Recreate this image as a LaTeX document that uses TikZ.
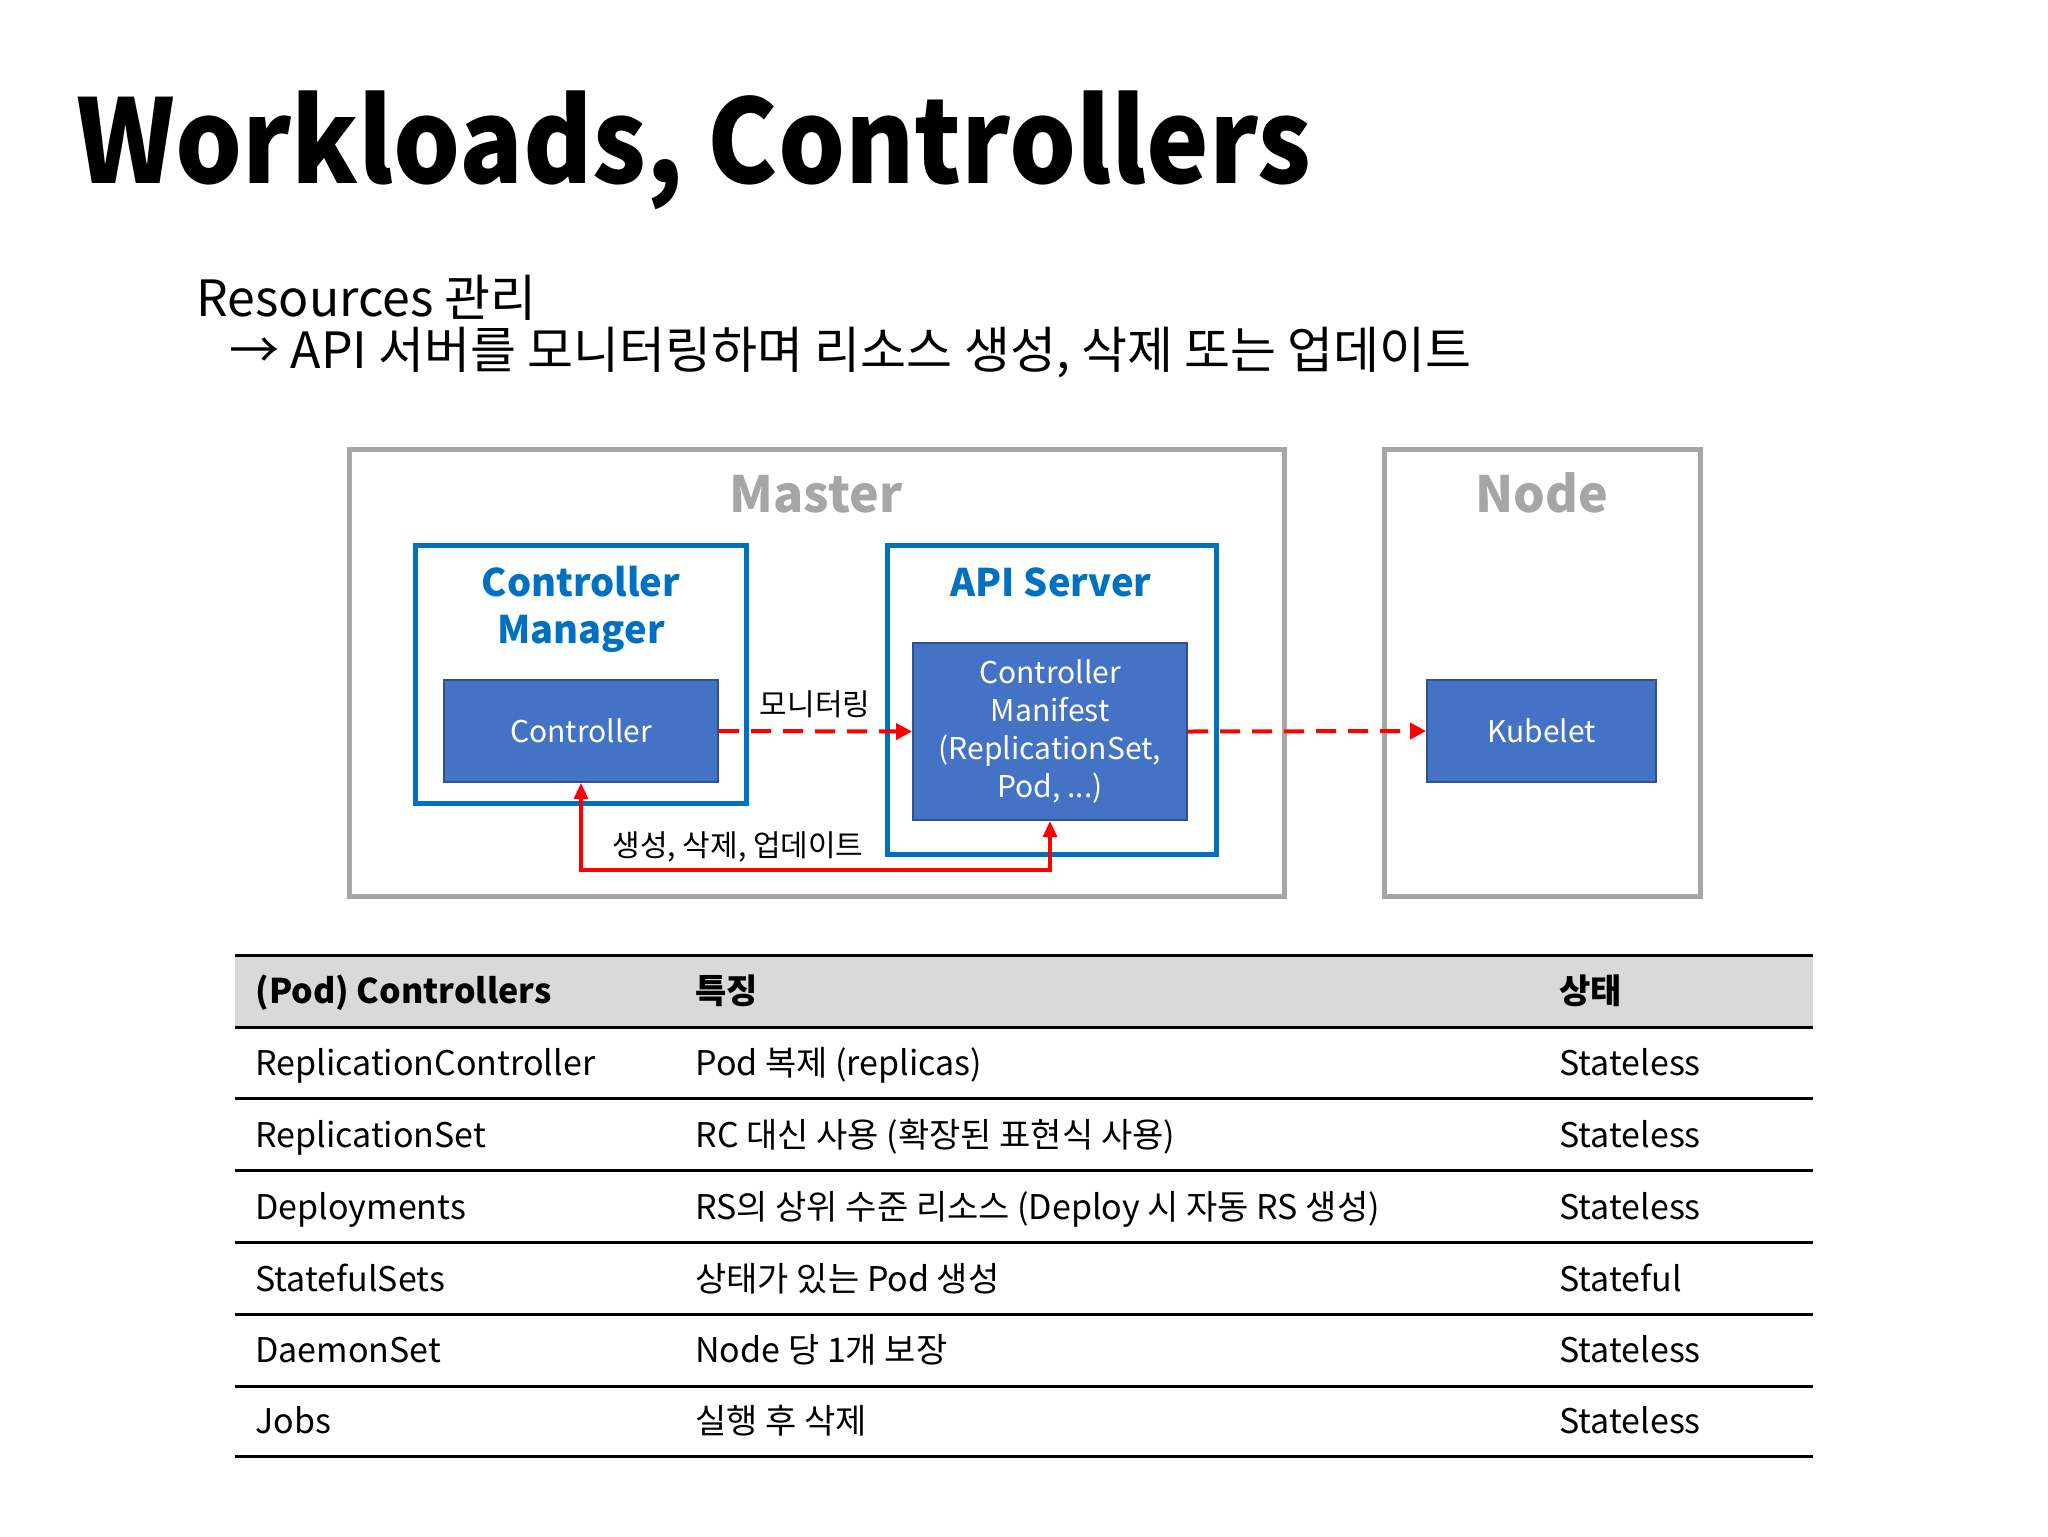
\documentclass[tikz,border=0pt]{standalone}
\usepackage{fontspec}
\setmainfont{Noto Sans CJK KR}
\usetikzlibrary{arrows.meta}
\definecolor{boxgray}{HTML}{A6A6A6}
\definecolor{msblue}{HTML}{0070C0}
\definecolor{fillblue}{HTML}{4472C4}
\definecolor{edgeblue}{HTML}{2F528F}
\definecolor{hdrgray}{HTML}{D9D9D9}
\definecolor{arrred}{HTML}{FF0000}
\tikzset{
  graybox/.style={draw=boxgray, line width=2.5pt, fill=white, inner sep=0pt},
  bluebox/.style={draw=msblue, line width=2.5pt, fill=white, inner sep=0pt},
  solidbox/.style={draw=edgeblue, line width=1pt, fill=fillblue, text=white, inner sep=0pt, align=center, font=\fontsize{15}{19}\selectfont},
  graytitle/.style={text=boxgray, font=\fontsize{25}{30}\selectfont\bfseries, anchor=base, inner sep=0pt},
  bluetitle/.style={text=msblue, font=\fontsize{19}{23.5}\selectfont\bfseries, align=center, inner sep=0pt},
  lbl/.style={font=\fontsize{15}{18}\selectfont, inner sep=0pt},
  dasharrow/.style={draw=arrred, line width=2pt, dash pattern=on 10pt off 6pt, -{Triangle[length=8pt,width=8pt]}},
  solidarrow/.style={draw=arrred, line width=1.6pt, {Triangle[length=8pt,width=7pt]}-{Triangle[length=8pt,width=7pt]}},
  tabline/.style={draw=black, line width=1.5pt},
  cell/.style={font=\fontsize{17}{21}\selectfont, anchor=base west, inner sep=0pt},
  hcell/.style={cell, font=\fontsize{17}{21}\selectfont\bfseries},
}
\begin{document}
\begin{tikzpicture}[x=0.5pt, y=-0.5pt]
\useasboundingbox[fill=white] (0,0) rectangle (2048,1536);

% title
\node[anchor=base west, inner sep=0pt, font=\fontsize{58}{66}\selectfont\bfseries] (title) at (76,183) {\scalebox{0.91}[1]{Workloads, Controllers}};
\node[anchor=base west, inner sep=0pt, font=\fontsize{25}{30}\selectfont] (sub1) at (196,316) {Resources 관리};
\node[anchor=base west, inner sep=0pt, font=\fontsize{25}{30}\selectfont] (sub2) at (229,368) {→ API 서버를 모니터링하며 리소스 생성, 삭제 또는 업데이트};

% frames
\node[graybox, minimum width=467.5pt, minimum height=223.5pt] (master) at (816.5,672.5) {};
\node[graybox, minimum width=158pt, minimum height=223.5pt] (nodebox) at (1542,672.5) {};
\node[graytitle] (mastert) at (816,512) {Master};
\node[graytitle] (nodet) at (1542,512) {Node};

\node[bluebox, minimum width=165.5pt, minimum height=129pt] (cm) at (580.5,674) {};
\node[bluebox, minimum width=164.5pt, minimum height=154.5pt] (api) at (1051.5,699.5) {};
\node[bluetitle, anchor=base] (cmt) at (581,643) {Controller\\Manager};
\node[bluetitle, anchor=base] (apit) at (1051,596) {API Server};

\node[solidbox, minimum width=137pt, minimum height=51pt] (ctrl) at (581,731) {Controller};
\node[solidbox, minimum width=137pt, minimum height=88.5pt] (man) at (1050,731.5) {Controller\\Manifest\\(ReplicationSet,\\Pod, ...)};
\node[solidbox, minimum width=114.5pt, minimum height=51pt] (kub) at (1541.5,731) {Kubelet};

% connectors
\draw[dasharrow] (ctrl.east) -- (man.west);
\draw[dasharrow] (man.east) -- (kub.west);
\coordinate (low) at (0,870);
\draw[solidarrow] (ctrl.south) -- (ctrl.south |- low) -- (man.south |- low) -- (man.south);
\node[lbl] (monlbl) at (815,704) {모니터링};
\node[lbl] (cudlbl) at (738,847) {생성, 삭제, 업데이트};

% table
\fill[hdrgray] (235,955) rectangle (1813,1027);
\foreach \yy in {955,1027,1098,1170,1242,1314,1386,1456} {\draw[tabline] (235,\yy) -- (1813,\yy);}
\node[hcell] (h1) at (255,1003) {(Pod) Controllers};
\node[hcell] (h2) at (695,1003) {특징};
\node[hcell] (h3) at (1559,1003) {상태};

\node[cell] (r1a) at (255,1075) {ReplicationController};
\node[cell] (r1b) at (695,1075) {Pod 복제 (replicas)};
\node[cell] (r1c) at (1559,1075) {Stateless};

\node[cell] (r2a) at (255,1147) {ReplicationSet};
\node[cell] (r2b) at (695,1147) {RC 대신 사용 (확장된 표현식 사용)};
\node[cell] (r2c) at (1559,1147) {Stateless};

\node[cell] (r3a) at (255,1219) {Deployments};
\node[cell] (r3b) at (695,1219) {RS의 상위 수준 리소스 (Deploy 시 자동 RS 생성)};
\node[cell] (r3c) at (1559,1219) {Stateless};

\node[cell] (r4a) at (255,1291) {StatefulSets};
\node[cell] (r4b) at (695,1291) {상태가 있는 Pod 생성};
\node[cell] (r4c) at (1559,1291) {Stateful};

\node[cell] (r5a) at (255,1362) {DaemonSet};
\node[cell] (r5b) at (695,1362) {Node 당 1개 보장};
\node[cell] (r5c) at (1559,1362) {Stateless};

\node[cell] (r6a) at (255,1433) {Jobs};
\node[cell] (r6b) at (695,1433) {실행 후 삭제};
\node[cell] (r6c) at (1559,1433) {Stateless};
\end{tikzpicture}
\end{document}
